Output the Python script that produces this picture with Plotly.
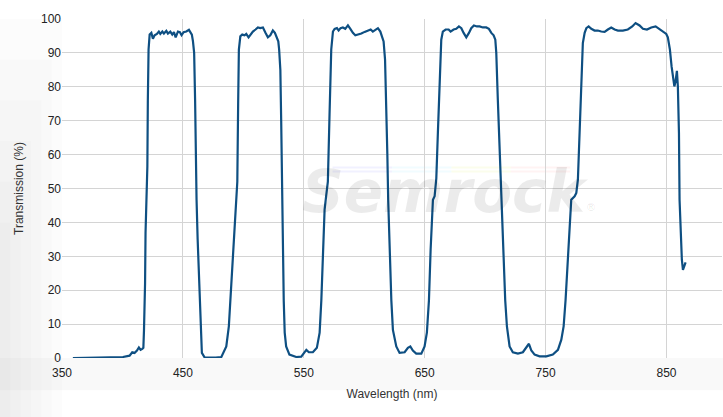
import plotly.graph_objects as go

# Wavelength (nm) and transmission (%)
wavelength = [
    359.0, 380.0, 389.4, 400.4, 405.9, 408.1, 410.0, 412.0, 413.6, 415.0, 416.4,
    417.3, 417.8, 418.3, 418.7, 419.1, 419.7, 420.2, 420.6, 421.0, 421.6, 422.5,
    423.9, 425.2, 426.6, 428.5, 430.1, 431.3, 433.0, 434.3, 436.3, 437.6, 439.6,
    441.2, 442.6, 444.0, 445.9, 447.5, 448.9, 450.6, 452.8, 455.0, 456.4, 457.4,
    458.3, 459.3, 460.1, 460.7, 461.3, 462.2, 463.0, 463.8, 464.7, 465.7, 467.9,
    472.1, 477.1, 481.8, 485.9, 488.0, 490.0, 491.4, 492.8, 494.2, 495.0, 495.7,
    496.3, 497.5, 499.1, 501.0, 502.4, 504.3, 506.0, 507.9, 510.1, 512.0, 514.0,
    516.2, 518.4, 520.3, 522.3, 524.4, 526.1, 527.7, 528.9, 529.6, 530.6, 531.3,
    531.9, 532.6, 533.4, 534.2, 535.4, 538.1, 543.8, 547.9, 549.8, 552.1, 554.2,
    557.5, 560.8, 563.1, 564.5, 565.8, 567.2, 568.4, 569.9, 571.3, 572.7, 574.1,
    575.5, 577.4, 578.8, 580.4, 582.3, 584.3, 586.5, 588.5, 590.6, 592.6, 594.7,
    597.6, 600.3, 603.0, 605.3, 607.1, 609.1, 611.3, 613.3, 614.9, 616.0, 617.2,
    618.2, 619.1, 619.8, 620.9, 622.4, 623.7, 626.5, 629.2, 633.4, 636.1, 638.1,
    640.2, 643.0, 647.2, 649.9, 651.8, 653.5, 654.9, 656.3, 656.8, 658.2, 659.6,
    660.9, 662.3, 663.7, 665.0, 667.3, 669.8, 671.4, 673.9, 676.1, 678.3, 680.3,
    682.2, 684.4, 686.6, 688.5, 690.7, 693.2, 695.4, 698.1, 700.9, 703.1, 705.1,
    707.0, 708.4, 709.2, 710.5, 711.9, 713.3, 714.8, 716.6, 718.0, 720.2, 722.9,
    727.1, 731.2, 734.0, 736.2, 738.2, 740.9, 745.0, 750.6, 756.0, 760.2, 763.0,
    764.9, 766.5, 767.9, 769.3, 770.4, 771.2, 774.0, 775.4, 776.7, 778.1, 779.5,
    780.8, 782.3, 783.7, 785.6, 787.8, 790.5, 793.2, 796.0, 798.8, 801.5, 804.3,
    807.1, 809.8, 813.9, 818.0, 821.7, 824.4, 827.7, 830.5, 833.8, 837.4, 841.0,
    843.7, 846.5, 849.8, 851.1, 852.8, 854.2, 855.4, 856.5, 857.5, 858.6, 859.4,
    860.3, 860.8, 861.6, 862.7, 863.6, 865.0, 865.8,
]
transmission = [
    0.0, 0.05, 0.2, 0.3, 0.7, 1.7, 1.5, 2.2, 3.1, 2.4, 2.7,
    3.0, 8.0, 15.0, 22.0, 36.9, 44.7, 47.0, 56.5, 76.0, 91.0, 95.4,
    95.9, 94.2, 95.2, 95.6, 96.3, 95.6, 96.3, 95.7, 96.5, 95.7, 96.3,
    95.4, 96.1, 94.6, 96.3, 96.1, 95.2, 96.1, 96.3, 96.8, 96.1, 95.4,
    93.5, 90.0, 76.0, 56.0, 46.7, 35.0, 27.0, 21.0, 7.5, 1.5, 0.2,
    0.1, 0.1, 0.3, 3.4, 9.3, 22.0, 32.0, 40.8, 46.7, 52.0, 75.0,
    91.0, 94.9, 95.4, 95.2, 95.6, 94.6, 95.4, 96.3, 96.9, 97.5, 97.3,
    97.5, 95.9, 94.6, 95.2, 96.6, 95.9, 94.4, 93.4, 91.0, 85.0, 70.0,
    50.0, 32.0, 17.0, 7.5, 3.4, 1.0, 0.3, 0.4, 1.3, 2.4, 1.7,
    1.7, 3.0, 7.5, 17.0, 32.0, 43.8, 47.5, 52.0, 72.0, 91.0, 96.3,
    97.1, 97.3, 96.6, 97.3, 97.5, 97.1, 98.1, 97.1, 95.9, 95.2, 95.4,
    95.7, 96.2, 96.6, 96.9, 96.3, 96.9, 97.3, 96.3, 94.9, 93.4, 88.0,
    76.0, 60.0, 46.7, 32.0, 17.0, 8.3, 3.4, 1.5, 1.7, 3.0, 3.4,
    2.2, 1.3, 1.3, 3.4, 7.5, 17.0, 32.0, 43.8, 46.7, 47.7, 53.0,
    66.4, 81.0, 93.9, 96.3, 96.9, 96.9, 96.3, 96.9, 97.1, 97.8, 97.3,
    95.9, 94.6, 95.9, 97.3, 98.1, 97.8, 97.8, 97.5, 97.5, 97.1, 95.9,
    95.2, 93.9, 90.0, 76.0, 61.4, 45.0, 35.0, 17.0, 9.3, 3.4, 1.7,
    1.3, 1.7, 3.0, 4.2, 2.2, 1.0, 0.5, 0.5, 1.0, 2.4, 5.4,
    9.3, 17.0, 27.0, 36.9, 43.8, 46.7, 47.7, 48.7, 52.6, 66.4, 81.0,
    92.9, 95.9, 97.3, 97.8, 97.1, 96.6, 96.6, 96.3, 96.2, 96.9, 97.5,
    96.9, 96.6, 96.6, 96.9, 97.8, 98.8, 98.1, 97.1, 96.9, 97.5, 97.8,
    97.1, 96.2, 95.6, 94.6, 91.0, 86.0, 82.0, 80.1, 81.6, 84.7, 80.1,
    66.4, 46.7, 36.9, 29.0, 26.0, 27.5, 28.2,
]

x_ticks = [350, 450, 550, 650, 750, 850]
y_ticks = [0, 10, 20, 30, 40, 50, 60, 70, 80, 90, 100]

fig = go.Figure()
fig.add_trace(go.Scatter(
    x=wavelength, y=transmission, mode="lines",
    line=dict(color="#0e4f82", width=2.2),
    hoverinfo="x+y", showlegend=False,
))

L = 62 / 660  # left margin as a fraction of the plot width
shapes = []
# subtle gray background gradient on the left margin and below the plot
for i in range(6):
    shapes.append(dict(type="rect", xref="paper", yref="paper",
                       x0=-L, x1=-L + (6 - i) * L / 6,
                       y0=-0.175, y1=1.0 - i * 0.12,
                       fillcolor="rgba(200,200,200,0.05)", line_width=0, layer="below"))
shapes.append(dict(type="rect", xref="paper", yref="paper", x0=-L, x1=1.002,
                   y0=-0.095, y1=0.0, fillcolor="rgba(200,200,200,0.10)",
                   line_width=0, layer="below"))
# faint coloured ribbon of the watermark
ribbon = ["rgba(120,120,255,0.10)", "rgba(120,230,255,0.10)",
          "rgba(230,240,120,0.14)", "rgba(255,160,160,0.12)"]
for k, c in enumerate(ribbon):
    for yy in (0.562, 0.550):
        shapes.append(dict(type="line", xref="paper", yref="paper",
                           x0=0.41 + k * 0.09, x1=0.41 + (k + 1) * 0.09, y0=yy, y1=yy,
                           line=dict(color=c, width=2), layer="below"))

fig.update_layout(
    width=723, height=417,
    margin=dict(l=62, r=1, t=19, b=59),
    paper_bgcolor="#ffffff",
    plot_bgcolor="rgba(255,255,255,0)",
    font=dict(family="Arial, Liberation Sans, sans-serif", size=12, color="#333333"),
    shapes=shapes,
    xaxis=dict(
        range=[350, 895.9], tickvals=x_ticks, ticktext=[str(v) for v in x_ticks],
        showgrid=True, gridcolor="#d4d4d4", gridwidth=1,
        zeroline=False, showline=False, ticks="", ticklabelstandoff=6,
        title=dict(text="Wavelength (nm)", standoff=10, font=dict(size=12, color="#333333")),
        tickfont=dict(size=12, color="#222222"), fixedrange=True,
    ),
    yaxis=dict(
        range=[0, 100], tickvals=y_ticks, ticktext=[str(v) for v in y_ticks],
        showgrid=True, gridcolor="#d4d4d4", gridwidth=1,
        zeroline=False, showline=False, ticks="",
        title=dict(text="Transmission (%)", standoff=14, font=dict(size=12, color="#333333")),
        tickfont=dict(size=12, color="#222222"), fixedrange=True,
    ),
    annotations=[
        dict(xref="paper", yref="paper", x=0.58, y=0.49, showarrow=False,
             text="<b><i>Semrock</i></b>",
             font=dict(family="DejaVu Sans, sans-serif", size=58,
                       color="rgba(0,0,0,0.08)")),
        dict(xref="paper", yref="paper", x=0.81, y=0.445, showarrow=False,
             text="®", font=dict(size=11, color="rgba(0,0,0,0.1)")),
    ],
)

fig.write_html("out.html", config={"displayModeBar": False},
               post_script="document.body.style.margin='0px';document.body.style.padding='0px';")
